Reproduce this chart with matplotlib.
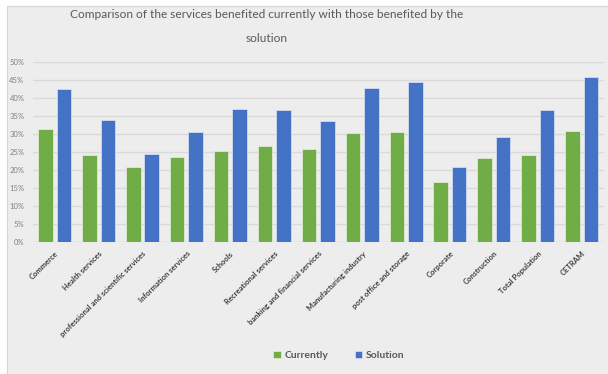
import matplotlib.pyplot as plt
import numpy as np
from matplotlib.patches import Rectangle

# Share of services benefited, per sector
categories = ["Commerce", "Health services", "professional and scientific services",
              "Information services", "Schools", "Recreational services",
              "banking and financial services", "Manufacturing industry",
              "post office and storage", "Corporate", "Construction",
              "Total Population", "CETRAM"]
currently = [31.3, 24.0, 20.7, 23.6, 25.2, 26.6, 25.7, 30.1, 30.6, 16.5, 23.3, 24.0, 30.7]
solution = [42.3, 33.9, 24.3, 30.5, 37.0, 36.5, 33.4, 42.6, 44.3, 20.7, 29.2, 36.7, 45.8]
yticks = [0, 5, 10, 15, 20, 25, 30, 35, 40, 45, 50]

plt.rcParams['font.family'] = ['Lato', 'DejaVu Sans']

W, H = 608, 374
fig = plt.figure(figsize=(W / 100, H / 100), dpi=100)
fig.patch.set_facecolor("white")

# gray chart area with thin border, kept behind the axes
bg = Rectangle((7 / W, -0.01), 1.02, 1 - 6 / H + 0.01,
               transform=fig.transFigure, facecolor="#EDEDED",
               edgecolor="#D6D6D6", linewidth=0.8, zorder=-10)
fig.add_artist(bg)

ax = fig.add_axes([32.7 / W, 1 - 241.7 / H, 571 / W, 180 / H])
ax.set_facecolor("none")

x = np.arange(len(categories))
w = 0.33
ax.bar(x - 0.21, currently, width=w, color="#70AD47", edgecolor="#E6F0DE",
       linewidth=0.5, label="Currently", zorder=3)
ax.bar(x + 0.21, solution, width=w, color="#4472C4", edgecolor="#DCE4F4",
       linewidth=0.5, label="Solution", zorder=3)

ax.set_xlim(-0.5, len(categories) - 0.5)
ax.set_ylim(0, 50)
ax.set_yticks(yticks)
ax.set_yticklabels([f"{t}%" for t in yticks], fontsize=5.5, color="#7F7F7F")
ax.yaxis.grid(True, color="#D9D9D9", linewidth=1.0, zorder=0)
ax.set_axisbelow(True)
ax.tick_params(axis="both", length=0)
ax.tick_params(axis="y", pad=6)
for s in ax.spines.values():
    s.set_visible(False)
ax.axhline(0, color="#D9D9D9", linewidth=1.0, zorder=2)

ax.set_xticks(x)
ax.set_xticklabels(categories, rotation=45, ha="right", rotation_mode="anchor",
                   fontsize=5.5, fontweight="bold", color="#404040")
ax.tick_params(axis="x", pad=6)

fig.text(267 / W, 1 - 14.5 / H,
         "Comparison of the services benefited currently with those benefited by the",
         ha="center", va="center", fontsize=8.6, color="#595959")
fig.text(267 / W, 1 - 38 / H, "solution", ha="center", va="center",
         fontsize=8.6, color="#595959")

leg = fig.legend(loc="center", bbox_to_anchor=(339 / W, 1 - 355.7 / H), ncol=2,
                 frameon=False, fontsize=7.5, handlelength=0.7, handleheight=0.7,
                 handletextpad=0.4, columnspacing=2.5)
for t in leg.get_texts():
    t.set_color("#595959")
    t.set_fontweight("bold")

fig.savefig("out.png", dpi=100)
